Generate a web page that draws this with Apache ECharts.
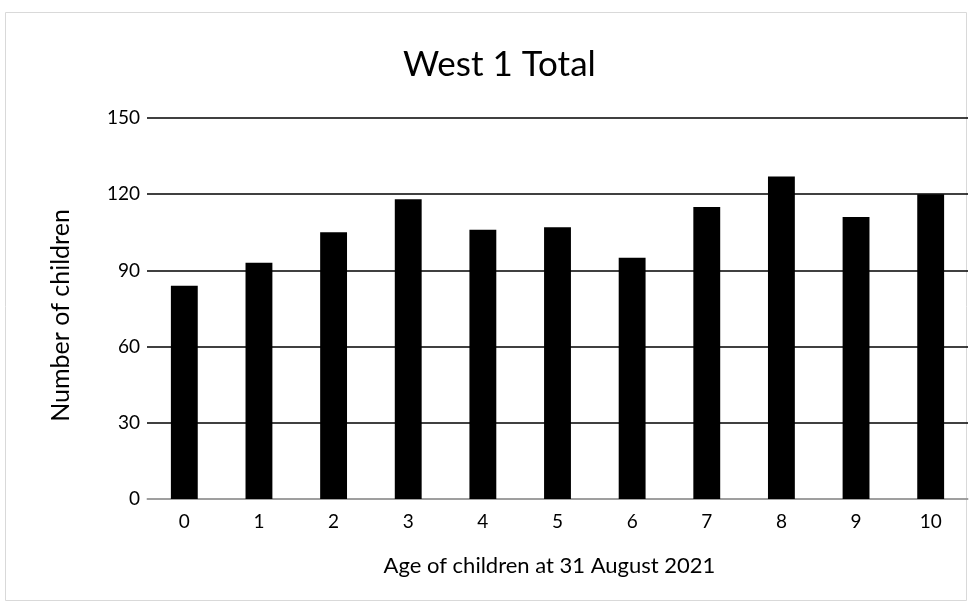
<!DOCTYPE html>
<html><head><meta charset="utf-8">
<script src="https://cdn.jsdelivr.net/npm/echarts@6/dist/echarts.min.js"></script>
<style>html,body{margin:0;padding:0;background:#fff;}#c{width:973px;height:609px;}</style>
</head><body><div id="c"></div>
<script>
const categories = ['0','1','2','3','4','5','6','7','8','9','10'];
const values = [84,93,105,118,106,107,95,115,127,111,120];
const yTicks = [0,30,60,90,120,150];

const chart = echarts.init(document.getElementById('c'), null, {renderer:'canvas'});
const font = 'Lato, "Open Sans", sans-serif';
chart.setOption({
  animation:false,
  backgroundColor:'#fff',
  title:{text:'West 1 Total',left:398,top:42,textStyle:{fontFamily:font,fontSize:35,fontWeight:'normal',color:'#000'}},
  graphic:[{type:'rect',shape:{x:5.5,y:12.5,width:961,height:588},style:{fill:'none',stroke:'#d9d9d9',lineWidth:1},silent:true,z:-1}],
  grid:{left:147,right:5,top:118,bottom:110},
  xAxis:{type:'category',data:categories,
    name:'Age of children at 31 August 2021',nameLocation:'middle',nameGap:56,
    nameTextStyle:{fontFamily:font,fontSize:22,color:'#000',padding:[0,16,0,0]},
    axisLine:{lineStyle:{color:'#bfbfbf',width:1.5}},axisTick:{show:false},
    axisLabel:{fontFamily:font,fontSize:19,color:'#000',margin:13}},
  yAxis:{type:'value',min:0,max:150,interval:30,
    name:'Number of children',nameLocation:'middle',nameGap:74,
    nameTextStyle:{fontFamily:font,fontSize:25,color:'#000',padding:[0,14,0,0]},
    axisLine:{show:false},axisTick:{show:false},
    axisLabel:{fontFamily:font,fontSize:19,color:'#000',margin:7,
      formatter:v=>yTicks.includes(v)?String(v):''},
    splitLine:{lineStyle:{color:'#000',width:1.5}}},
  series:[{type:'bar',data:values,barWidth:'36%',itemStyle:{color:'#000'}}]
});
</script></body></html>
